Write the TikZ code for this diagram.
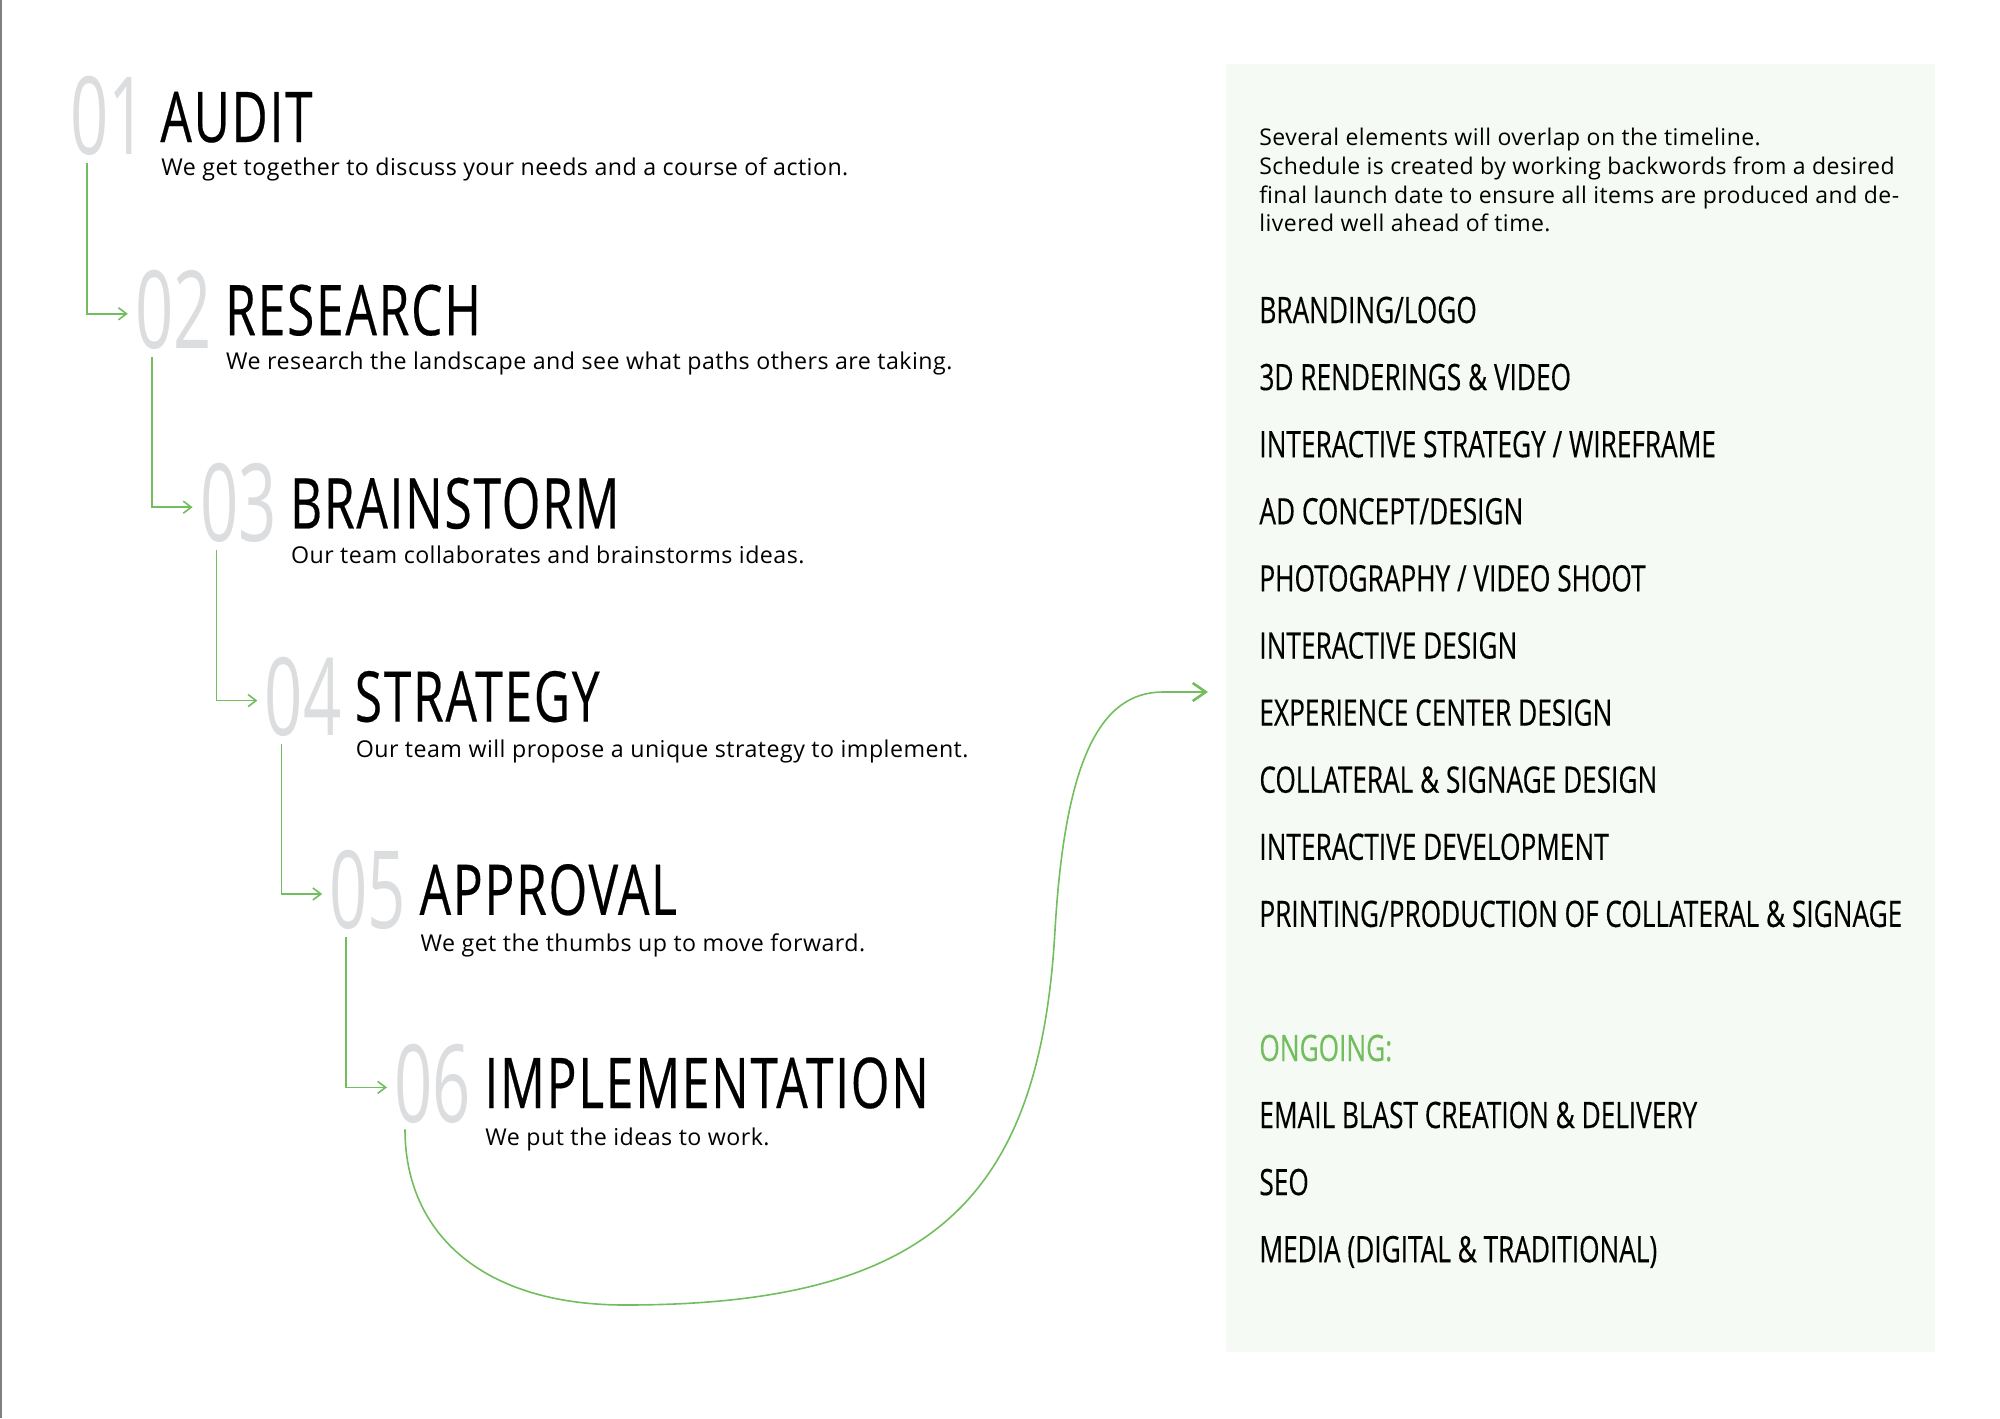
\documentclass[tikz,border=0pt]{standalone}
\usepackage{fontspec}
\setmainfont{Open Sans}
\newfontfamily\bodyfont[LetterSpace=2]{Open Sans}
\newfontfamily\titlefont[FakeStretch=0.71,LetterSpace=2.5,FakeBold=0.3]{Open Sans}
\newfontfamily\itemfont[FakeStretch=0.72,FakeBold=0.3]{Open Sans}
\newfontfamily\numfont[FakeStretch=0.62]{Open Sans}
\usetikzlibrary{arrows.meta,calc}
\definecolor{leaf}{HTML}{72BE5E}
\definecolor{mist}{HTML}{DCDDDF}
\definecolor{panel}{HTML}{F6FAF4}
\begin{document}
\begin{tikzpicture}[x=0.5pt,y=-0.5pt,
    num/.style={anchor=base west,inner sep=0,text=mist,font=\numfont\fontsize{54pt}{54pt}\selectfont},
    ttl/.style={anchor=base west,inner sep=0,font=\titlefont\fontsize{35pt}{35pt}\selectfont},
    sub/.style={anchor=base west,inner sep=0,font=\bodyfont\fontsize{11.6pt}{14pt}\selectfont},
    item/.style={anchor=base west,inner sep=0,font=\itemfont\fontsize{18.2pt}{20pt}\selectfont},
    flow/.style={draw=leaf,line width=0.8pt,-{Straight Barb[length=4pt,width=6pt]}}]
    \useasboundingbox (0,0) rectangle (2000,1418);
    \draw[gray,line width=0.6pt](1,0)--(1,1418);
    \fill[panel](1226,64)rectangle(1935,1352);
    % steps
    \foreach \nr/\head/\txt [count=\i from 0] in {01/AUDIT/We get together to discuss your needs and a course of action.,
        02/RESEARCH/We research the landscape and see what paths others are taking.,
        03/BRAINSTORM/Our team collaborates and brainstorms ideas.,
        04/STRATEGY/Our team will propose a unique strategy to implement.,
        05/APPROVAL/We get the thumbs up to move forward.,
        06/IMPLEMENTATION/We put the ideas to work.}
    {
        \node[num](n\nr) at (70+64.8*\i,155+193.4*\i){\nr};
        \node[ttl](t\nr) at (160+64.8*\i,142+193.2*\i){\head};
        \node[sub](s\nr) at (161+64.8*\i,175+194*\i){\txt};
    }
    \foreach \a/\b in {01/02,02/03,03/04,04/05,05/06}
    {
        \draw[flow]($(n\a.south west)+(17,7)$)|-($(n\b.west)+(-7,4)$);
    }
    % timeline
    \node[anchor=north west,inner sep=0,align=left,font=\bodyfont\fontsize{11.5pt}{14.3pt}\selectfont](intro) at (1259,128)
        {Several elements will overlap on the timeline.\\
         Schedule is created by working backwords from a desired\\
         final launch date to ensure all items are produced and de-\\
         livered well ahead of time.};
    \foreach \item [count=\k from 0] in {{BRANDING/LOGO},{3D RENDERINGS \& VIDEO},
        {INTERACTIVE STRATEGY / WIREFRAME},{AD CONCEPT/DESIGN},{PHOTOGRAPHY / VIDEO SHOOT},
        {INTERACTIVE DESIGN},{EXPERIENCE CENTER DESIGN},{COLLATERAL \& SIGNAGE DESIGN},
        {INTERACTIVE DEVELOPMENT},{PRINTING/PRODUCTION OF COLLATERAL \& SIGNAGE}}
    {
        \node[item](l\k) at (1259,323+67.1*\k){\item};
    }
    \node[item,text=leaf](ongoing) at (1259,1061){ONGOING:};
    \foreach \item [count=\k from 0] in {{EMAIL BLAST CREATION \& DELIVERY},{SEO},{MEDIA (DIGITAL \& TRADITIONAL)}}
    {
        \node[item](o\k) at (1259,1128+67.1*\k){\item};
    }
    \coordinate (goal) at (1208,692);
    \draw[leaf,line width=0.8pt,-{Straight Barb[length=6.5pt,width=9pt,line width=1.3pt]}]
        ($(n06.south west)+(11,6)$) .. controls +(0,102) and (480,1305) .. (625,1305)
        .. controls (930,1305) and (1040,1200) .. (1055,930)
        .. controls (1065,760) and (1100,692) .. (1163,692) -- (goal);
\end{tikzpicture}
\end{document}
